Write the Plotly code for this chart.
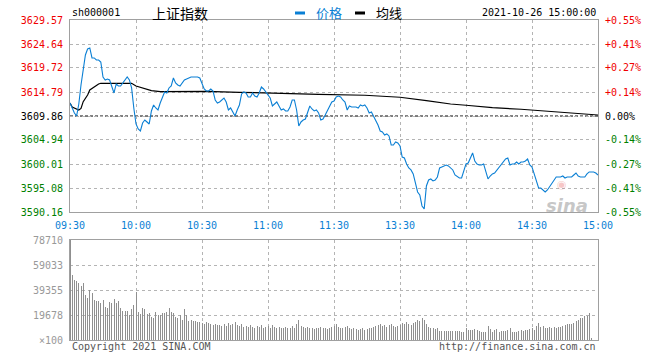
import plotly.graph_objects as go

prev_close = 3609.86

price = [
    3612.54, 3611.51, 3610.49, 3609.87, 3612.33, 3616.23, 3619.72, 3622.39, 3623.62, 3623.83,
    3621.78, 3621.78, 3621.36, 3621.36, 3620.95, 3617.87, 3617.26, 3617.46, 3617.26, 3615.82,
    3614.59, 3616.44, 3616.03, 3616.03, 3616.64, 3617.26, 3617.87, 3617.26, 3615.62, 3611.51,
    3608.23, 3607.20, 3606.79, 3608.43, 3609.05, 3608.64, 3608.23, 3610.90, 3612.13, 3611.51,
    3611.10, 3612.54, 3613.56, 3614.80, 3614.59, 3615.62, 3616.03, 3617.67, 3616.64, 3616.23,
    3616.03, 3616.64, 3617.26, 3617.46, 3617.67, 3617.87, 3617.87, 3617.87, 3617.87, 3617.67,
    3616.44, 3615.41, 3615.00, 3615.00, 3615.41, 3615.00, 3613.15, 3612.54, 3612.74, 3613.15,
    3613.56, 3612.74, 3611.10, 3611.51, 3610.69, 3609.87, 3611.10, 3612.13, 3614.39, 3614.80,
    3614.59, 3613.77, 3613.77, 3614.59, 3613.97, 3613.77, 3614.59, 3615.82, 3615.41, 3614.80,
    3614.18, 3613.56, 3611.92, 3612.33, 3612.74, 3611.92, 3611.10, 3611.31, 3610.90, 3610.90,
    3611.72, 3613.15, 3613.15, 3611.10, 3607.82, 3608.64, 3609.05, 3609.25, 3610.69, 3611.92,
    3611.31, 3610.90, 3611.10, 3610.49, 3609.05, 3609.25, 3610.08, 3610.90, 3611.72, 3612.74,
    3612.95, 3613.77, 3613.97, 3613.77, 3613.15, 3612.74, 3611.10, 3611.92, 3611.72, 3611.72,
    3611.72, 3611.51, 3612.13, 3611.92, 3612.13, 3611.51, 3610.49, 3610.69, 3609.87, 3608.84,
    3608.02, 3606.79, 3606.59, 3605.97, 3606.18, 3605.77, 3603.92, 3603.92, 3604.53, 3604.33,
    3603.71, 3601.45, 3601.25, 3600.02, 3599.20, 3598.79, 3597.97, 3596.12, 3594.27, 3593.65,
    3591.40, 3590.78, 3595.50, 3596.73, 3596.94, 3596.53, 3596.73, 3597.35, 3599.20, 3599.40,
    3599.61, 3599.81, 3599.61, 3599.20, 3598.79, 3597.76, 3597.35, 3597.14, 3597.14, 3598.38,
    3600.02, 3600.22, 3601.25, 3602.28, 3600.63, 3600.02, 3599.81, 3599.81, 3600.02, 3598.58,
    3596.94, 3597.55, 3597.97, 3598.17, 3598.79, 3599.40, 3600.02, 3600.43, 3601.04, 3601.25,
    3599.81, 3600.02, 3600.02, 3600.43, 3600.02, 3600.43, 3600.43, 3600.63, 3601.04, 3599.81,
    3599.40, 3597.97, 3596.73, 3595.09, 3595.09, 3594.68, 3594.27, 3594.68, 3595.30, 3595.91,
    3596.73, 3597.35, 3597.35, 3597.35, 3597.55, 3597.14, 3597.35, 3597.35, 3597.35, 3597.76,
    3598.17, 3597.55, 3597.35, 3597.35, 3597.35, 3597.97, 3598.38, 3598.38, 3598.38, 3598.17,
    3597.76,
]

avg_minute = [0, 1, 4, 5, 6, 8, 9, 11, 13, 14, 28, 30, 33, 37, 41, 49, 50, 59, 62, 77,
              103, 113, 134, 150, 162, 173, 180, 192, 205, 215, 223, 232, 240]
avg_price = [3612.54, 3611.72, 3611.10, 3611.41, 3612.81, 3614.18, 3615.21, 3615.88, 3616.44,
             3616.58, 3616.58, 3616.03, 3615.56, 3615.06, 3614.86, 3614.86, 3615.00, 3615.00,
             3614.90, 3614.73, 3614.53, 3614.32, 3614.12, 3613.71, 3613.01, 3612.33, 3612.07,
             3611.57, 3611.25, 3610.90, 3610.55, 3610.28, 3610.07]

volume = [
    78710, 51160, 47230, 46440, 44600, 42500, 45130, 35420, 32800, 39100,
    36730, 31480, 30700, 30700, 29380, 31480, 26240, 25450, 30170, 29380,
    32270, 28860, 30700, 24920, 22830, 22830, 23090, 19680, 24400, 27550,
    37510, 21780, 20200, 24920, 24400, 20200, 20990, 18370, 17580, 22300,
    19680, 19680, 20990, 20990, 22300, 24920, 21780, 20990, 18370, 17580,
    19680, 15740, 24400, 19680, 15220, 15740, 14950, 14950, 14430, 13900,
    13120, 12330, 13900, 13120, 12330, 11810, 12590, 11810, 11810, 11020,
    12330, 11020, 13120, 11810, 12330, 13900, 11810, 11020, 12330, 10490,
    11020, 10490, 11810, 10490, 9710, 11020, 10490, 11810, 9710, 10490,
    11020, 9710, 11810, 10490, 9710, 10490, 9180, 9710, 10490, 9180,
    9710, 11020, 9710, 12330, 15740, 11020, 10490, 9710, 10490, 9180,
    9710, 8660, 9710, 9180, 10490, 9710, 9180, 8660, 9710, 10490,
    11020, 12330, 10490, 9710, 9180, 10490, 11020, 9180, 8660, 9180,
    8660, 8140, 8660, 9180, 8140, 8660, 9710, 9180, 10490, 11020,
    11810, 12330, 11020, 11810, 10490, 11810, 12590, 11020, 10490, 11020,
    11810, 13120, 12330, 13900, 12590, 11810, 13120, 14430, 15740, 14950,
    17050, 15740, 12330, 10490, 9710, 9180, 8660, 9180, 7080, 7080,
    7080, 7080, 6820, 7080, 7080, 6820, 7080, 7080, 6560, 6560,
    9710, 7870, 7870, 7870, 8660, 7870, 7080, 6560, 6560, 6560,
    11020, 8660, 6560, 7870, 8660, 6560, 7080, 7080, 7080, 7870,
    9180, 6560, 6560, 6560, 7080, 7870, 7080, 7870, 7870, 8660,
    9710, 7870, 11280, 13120, 10490, 11020, 9710, 9710, 10490, 9710,
    10490, 9710, 10490, 10490, 11280, 11810, 12330, 12590, 12330, 13120,
    14950, 15740, 17050, 17580, 18890, 19150, 21000, 1840, 0, 0,
    0,
]

price_ticks = [3590.16, 3595.08, 3600.01, 3604.94, 3609.86, 3614.79, 3619.72, 3624.64, 3629.57]
price_labels = ["3590.16", "3595.08", "3600.01", "3604.94", "3609.86", "3614.79", "3619.72",
                "3624.64", "3629.57"]
pct_labels = ["-0.55%", "-0.41%", "-0.27%", "-0.14%", "0.00%", "+0.14%", "+0.27%", "+0.41%", "+0.55%"]
vol_ticks = [0, 19678, 39355, 59033, 78710]
vol_labels = ["×100", "19678", "39355", "59033", "78710"]
time_ticks = [0, 30, 60, 90, 120, 150, 180, 210, 240]
time_labels = ["09:30", "10:00", "10:30", "11:00", "11:30", "13:30", "14:00", "14:30", "15:00"]

RED = "#f00000"
GREEN = "#008000"
BLUE = "#0a7fd4"
GRID = "#b4b4b4"
FRAME = "#a0a0a0"
MONO = "DejaVu Sans Mono"


def colored(labels, ticks):
    out = []
    for lab, t in zip(labels, ticks):
        if abs(t - prev_close) < 1e-6:
            c = "#000000"
        elif t > prev_close:
            c = RED
        else:
            c = GREEN
        out.append('<span style="color:%s">%s</span>' % (c, lab))
    return out


minutes = list(range(len(price)))

fig = go.Figure()
fig.add_trace(go.Bar(x=minutes, y=volume, xaxis="x2", yaxis="y3", width=0.45,
                     marker=dict(color="#8f8f8f", line=dict(width=0)), hoverinfo="skip"))
fig.add_trace(go.Scatter(x=avg_minute, y=avg_price, mode="lines", xaxis="x", yaxis="y",
                         line=dict(color="#000000", width=1.2), hoverinfo="skip"))
fig.add_trace(go.Scatter(x=minutes, y=price, mode="lines", xaxis="x", yaxis="y",
                         line=dict(color=BLUE, width=1.1), hoverinfo="skip"))
fig.add_trace(go.Scatter(x=[0], y=[prev_close], mode="lines", xaxis="x", yaxis="y2",
                         opacity=0, hoverinfo="skip"))

axis_common = dict(showgrid=True, gridcolor=GRID, griddash="dot", gridwidth=1,
                   zeroline=False, showline=True, mirror=True, linecolor=FRAME, linewidth=1,
                   fixedrange=True, automargin=False)

fig.update_layout(
    width=660, height=360,
    margin=dict(l=70, r=62, t=20, b=20, pad=0),
    paper_bgcolor="white", plot_bgcolor="white",
    showlegend=False,
    font=dict(family=MONO, size=10, color="#000"),
    xaxis=dict(domain=[0, 1], anchor="y", range=[0, 240], tickmode="array",
               tickvals=time_ticks, ticktext=time_labels,
               tickfont=dict(color=BLUE, family=MONO, size=10),
               ticks="outside", ticklen=4, tickcolor="rgba(0,0,0,0)", **axis_common),
    yaxis=dict(domain=[0.4, 1], anchor="x", range=[3590.16, 3629.57], tickmode="array",
               tickvals=price_ticks, ticktext=colored(price_labels, price_ticks),
               tickfont=dict(family=MONO, size=10),
               ticks="outside", ticklen=4, tickcolor="rgba(0,0,0,0)", **axis_common),
    yaxis2=dict(overlaying="y", side="right", anchor="x", range=[3590.16, 3629.57],
                tickmode="array", tickvals=price_ticks,
                ticktext=colored(pct_labels, price_ticks),
                tickfont=dict(family=MONO, size=10), showgrid=False, zeroline=False,
                showline=False, ticks="outside", ticklen=4, tickcolor="rgba(0,0,0,0)",
                fixedrange=True, automargin=False),
    xaxis2=dict(domain=[0, 1], anchor="y3", range=[0, 240], tickmode="array",
                tickvals=time_ticks, showticklabels=False, **axis_common),
    yaxis3=dict(domain=[0, 0.3125], anchor="x2", range=[0, 78710], tickmode="array",
                tickvals=vol_ticks, ticktext=vol_labels,
                tickfont=dict(color="#999999", family=MONO, size=10),
                ticks="outside", ticklen=4, tickcolor="rgba(0,0,0,0)", **axis_common),
    bargap=0,
)

# previous close dashed line
fig.add_shape(type="line", xref="x", yref="y", x0=0, x1=240, y0=prev_close, y1=prev_close,
              line=dict(color="#000000", width=1, dash="3px,2px"), layer="below")


def px(x):
    return (x - 70) / 528


def py(y):
    return (340 - y) / 320


# legend markers
fig.add_shape(type="line", xref="paper", yref="paper", x0=px(295), x1=px(305),
              y0=py(13), y1=py(13), line=dict(color=BLUE, width=3))
fig.add_shape(type="line", xref="paper", yref="paper", x0=px(355), x1=px(365),
              y0=py(13), y1=py(13), line=dict(color="#000000", width=3))

ann = [
    dict(text="sh000001", x=px(70), y=py(13), xanchor="left", font=dict(family=MONO, size=10)),
    dict(text="上证指数", x=px(150), y=py(13), xanchor="left",
         font=dict(family="Noto Sans CJK SC", size=14, color="#000")),
    dict(text="价格", x=px(314), y=py(13), xanchor="left",
         font=dict(family="Noto Sans CJK SC", size=13, color=BLUE)),
    dict(text="均线", x=px(374), y=py(13), xanchor="left",
         font=dict(family="Noto Sans CJK SC", size=13, color="#000")),
    dict(text="2021-10-26 15:00:00", x=px(598), y=py(13), xanchor="right",
         font=dict(family=MONO, size=10)),
    dict(text="Copyright 2021 SINA.COM", x=px(70), y=py(346), xanchor="left",
         font=dict(family=MONO, size=10, color="#555555")),
    dict(text="http://finance.sina.com.cn", x=px(598), y=py(346), xanchor="right",
         font=dict(family=MONO, size=10, color="#555555")),
    dict(text="<b><i>sina</i></b>", x=px(567), y=py(205), xanchor="center",
         font=dict(family="DejaVu Sans", size=18, color="rgba(150,150,150,0.55)")),
    dict(text="◉", x=px(562), y=py(184), xanchor="center",
         font=dict(family="DejaVu Sans", size=11, color="rgba(230,90,90,0.35)")),
]
for a in ann:
    a.update(xref="paper", yref="paper", yanchor="middle", showarrow=False)
fig.update_layout(annotations=ann)

fig.write_html("out.html", post_script="document.body.style.margin='0px';",
               config={"displayModeBar": False, "staticPlot": True})
